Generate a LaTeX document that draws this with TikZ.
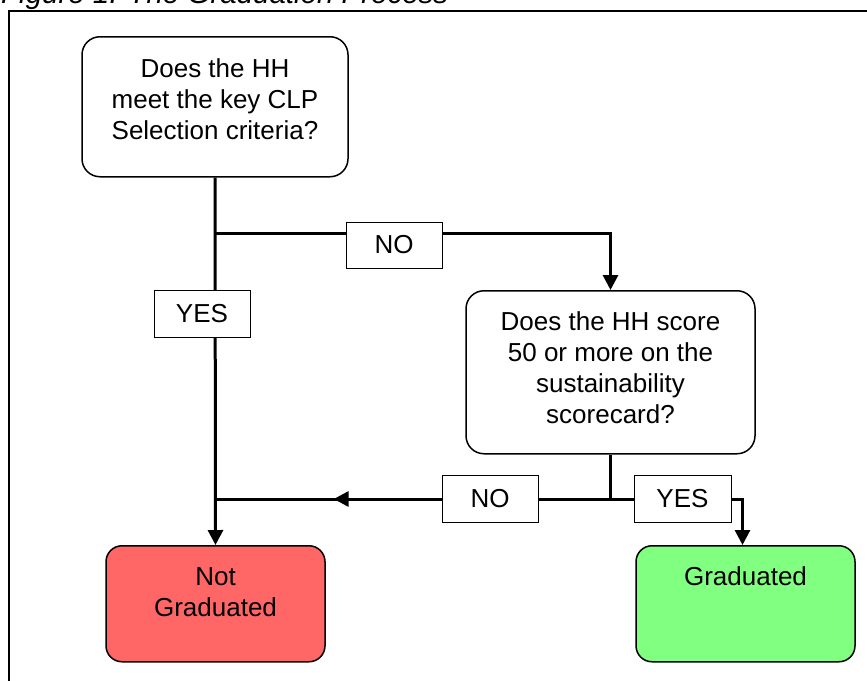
\documentclass[tikz,border=0pt]{standalone}
\usepackage{fontspec}
\setmainfont{Liberation Sans}
\usetikzlibrary{arrows.meta,calc}

\definecolor{notgradred}{HTML}{FF6666}
\definecolor{gradgreen}{HTML}{80FF80}

\tikzset{
  boxfont/.style={font=\fontsize{26}{31}\selectfont},
  question/.style={draw, line width=1.5pt, rounded corners=18pt, align=center, inner sep=0pt, anchor=north, boxfont},
  outcome/.style={draw, line width=1.5pt, rounded corners=16pt, align=center, inner sep=0pt, anchor=north,
    minimum width=219pt, text height=40pt, text depth=76pt, boxfont},
  answer/.style={draw, fill=white, line width=1pt, minimum width=96pt, minimum height=46pt, inner sep=0pt, boxfont},
  flow/.style={line width=3pt},
  tip/.style={-{Triangle[length=15pt,width=15pt]}}
}

\begin{document}
\begin{tikzpicture}[x=1pt, y=-1pt]
\useasboundingbox (0,0) rectangle (867,680);
% frame and caption
\draw[line width=2pt] (9,11) rectangle (900,720);
\node[anchor=base west, inner sep=0pt, font=\fontsize{29.5}{33}\selectfont\itshape] (caption) at (1,4) {Figure 1: The Graduation Process};

% boxes
\node[question, minimum width=266pt, text height=103pt, text depth=37pt] (meetclp) at (215,36) {Does the HH\\meet the key CLP\\Selection criteria?};
\node[question, minimum width=289pt, text height=133pt, text depth=30pt] (score) at (610.5,290) {Does the HH score\\50 or more on the\\sustainability\\scorecard?};
\node[outcome, fill=notgradred, text height=71pt, text depth=45pt] (notgrad) at (215.5,545) {Not\\Graduated};
\node[outcome, fill=gradgreen] (grad) at (745.5,545) {Graduated};

\coordinate (fork1) at (215,233);
\coordinate (fork2) at (610.5,499);
\coordinate (join) at (215,499);

% connectors
\draw[flow, tip] (meetclp.south) -- (notgrad.north);
\draw[flow, tip] (fork1) -| (score.north);
\draw[flow] (score.south) -- (fork2);
\draw[flow] (fork2) -- (join);
\draw[flow, tip] (fork2) -- ($(fork2)!0.7!(join)$);
\draw[flow, tip] (fork2) -| ([xshift=-3pt]grad.north);

% answers
\node[answer] (no1) at (394,245) {NO};
\node[answer, minimum height=47pt] (yes1) at (202,313.5) {YES};
\node[answer, minimum height=47pt] (no2) at (490,498.5) {NO};
\node[answer, minimum width=97pt, minimum height=47pt] (yes2) at (682.5,498.5) {YES};
\end{tikzpicture}
\end{document}
